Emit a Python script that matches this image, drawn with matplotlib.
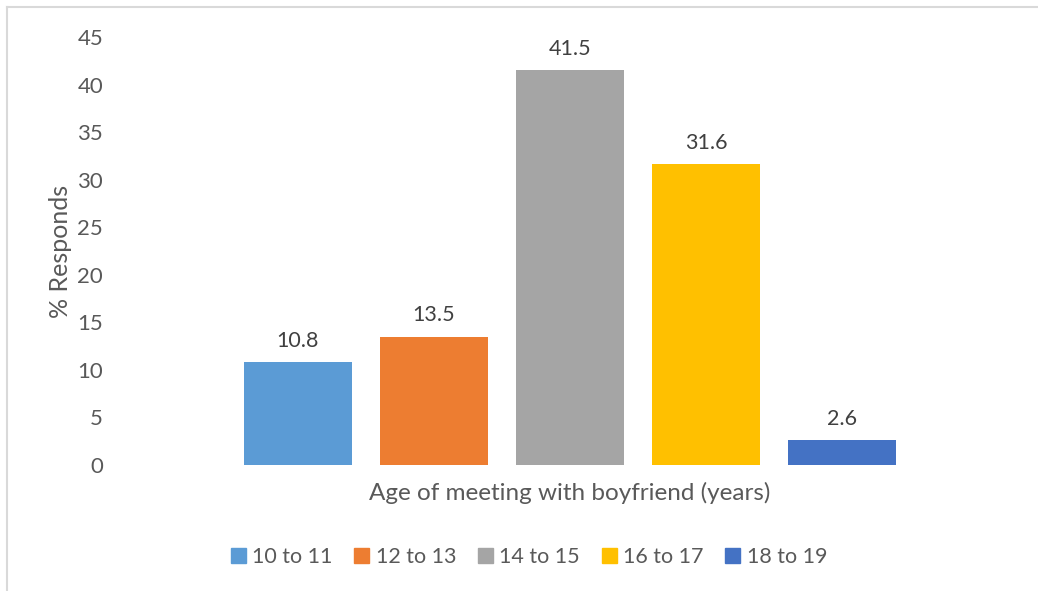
import matplotlib.pyplot as plt
from matplotlib.lines import Line2D
from matplotlib.patches import Patch
import numpy as np

plt.rcParams['font.family'] = ['Lato', 'DejaVu Sans']

groups = ['10 to 11', '12 to 13', '14 to 15', '16 to 17', '18 to 19']
values = [10.8, 13.5, 41.5, 31.6, 2.6]
colors = ['#5B9BD5', '#ED7D31', '#A5A5A5', '#FFC000', '#4472C4']
yticks = [0, 5, 10, 15, 20, 25, 30, 35, 40, 45]
text_col = '#595959'

fig = plt.figure(figsize=(10.38, 5.91), dpi=100)
ax = fig.add_axes([110/1038, 1-465/591, 920/1038, 428/591])

x = np.arange(len(groups))
bars = ax.bar(x, values, width=0.79, color=colors)
for b, v in zip(bars, values):
    ax.text(b.get_x() + b.get_width()/2, v + 1.2, f'{v}', ha='center', va='bottom',
            fontsize=15.5, color='#404040')

ax.set_xlim(-1.38, 5.38)
ax.set_ylim(0, 45)
ax.set_yticks(yticks)
ax.set_xticks([])
ax.tick_params(axis='y', length=0, labelsize=16, labelcolor=text_col, pad=5)
for s in ax.spines.values():
    s.set_visible(False)

ax.set_xlabel('Age of meeting with boyfriend (years)', fontsize=17.5, color=text_col, labelpad=12)
fig.text(60/1038, 1-251/591, '% Responds', rotation=90, ha='center', va='center',
         fontsize=18, color=text_col)

handles = [Patch(color=c) for c in colors]
fig.legend(handles, groups, loc='center', bbox_to_anchor=(529/1038, 1-557/591), ncol=5,
           frameon=False, fontsize=15.5, labelcolor=text_col, handlelength=0.7,
           handleheight=0.7, handletextpad=0.3, columnspacing=1.0)

# chart border (left and top visible)
fig.add_artist(Line2D([7/1038, 7/1038], [0, 1-7/591], color='#D9D9D9', lw=1.5))
fig.add_artist(Line2D([7/1038, 1], [1-7/591, 1-7/591], color='#D9D9D9', lw=1.5))

fig.savefig('out.png', dpi=100)
